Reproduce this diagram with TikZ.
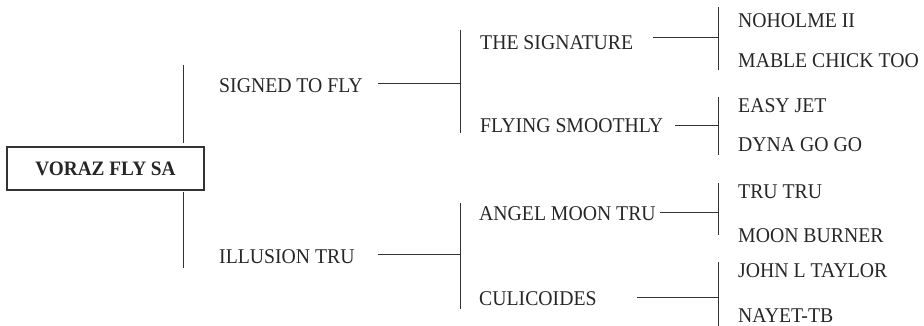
\documentclass[tikz,border=0pt]{standalone}
\usepackage{fontspec}
\setmainfont{Liberation Serif}[FakeStretch=0.94]
\begin{document}
\begin{tikzpicture}[x=1pt,y=-1pt,
  lbl/.style={anchor=base west, inner sep=0pt, font=\fontsize{21}{25}\selectfont, text=black!85},
  rootbox/.style={draw=black!80, line width=1.1pt, minimum width=197pt, minimum height=43pt, inner sep=0pt, font=\fontsize{20.5}{25}\selectfont\bfseries, text=black!85},
  bar/.style={draw=black!80, line width=1pt}]
\useasboundingbox (0,0) rectangle (924,326);
% root
\node[rootbox] (root) at (105.5,168.5) {VORAZ FLY SA};
\coordinate (rt1) at (183,65);
\coordinate (rt2) at (183,143);
\coordinate (rb1) at (183,192);
\coordinate (rb2) at (183,268);
\draw[bar] (rt1) -- (rt2);
\draw[bar] (rb1) -- (rb2);
% generation 1
\node[lbl] (s) at (219,93) {SIGNED TO FLY};
\node[lbl] (i) at (219,263) {ILLUSION TRU};
\coordinate (s0) at (378,84);
\coordinate (s1) at (460,84);
\coordinate (i0) at (378,254);
\coordinate (i1) at (460,254);
\draw[bar] (s0) -- (s1);
\draw[bar] (i0) -- (i1);
\coordinate (sv1) at (460,30);
\coordinate (sv2) at (460,133);
\coordinate (iv1) at (460,203);
\coordinate (iv2) at (460,309);
\draw[bar] (sv1) -- (sv2);
\draw[bar] (iv1) -- (iv2);
% generation 2
\node[lbl] (ts) at (480,50) {THE SIGNATURE};
\node[lbl] (fs) at (480,133) {FLYING SMOOTHLY};
\node[lbl] (am) at (479,220) {ANGEL MOON TRU};
\node[lbl] (cu) at (479,305) {CULICOIDES};
\coordinate (ts0) at (653,38);  \coordinate (ts1) at (718,38);
\coordinate (fs0) at (675,126); \coordinate (fs1) at (718,126);
\coordinate (am0) at (660,212); \coordinate (am1) at (718,212);
\coordinate (cu0) at (637,297); \coordinate (cu1) at (718,297);
\draw[bar] (ts0) -- (ts1);
\draw[bar] (fs0) -- (fs1);
\draw[bar] (am0) -- (am1);
\draw[bar] (cu0) -- (cu1);
\coordinate (tsv1) at (718,7);   \coordinate (tsv2) at (718,70);
\coordinate (fsv1) at (718,97);  \coordinate (fsv2) at (718,155);
\coordinate (amv1) at (718,183); \coordinate (amv2) at (718,235);
\coordinate (cuv1) at (718,262); \coordinate (cuv2) at (718,326);
\draw[bar] (tsv1) -- (tsv2);
\draw[bar] (fsv1) -- (fsv2);
\draw[bar] (amv1) -- (amv2);
\draw[bar] (cuv1) -- (cuv2);
% generation 3
\node[lbl] (n1) at (738,28) {NOHOLME II};
\node[lbl] (n2) at (738,68) {MABLE CHICK TOO};
\node[lbl] (n3) at (738,113) {EASY JET};
\node[lbl] (n4) at (738,152) {DYNA GO GO};
\node[lbl] (n5) at (738,198) {TRU TRU};
\node[lbl] (n6) at (738,242) {MOON BURNER};
\node[lbl] (n7) at (738,277) {JOHN L TAYLOR};
\node[lbl] (n8) at (738,322) {NAYET-TB};
\end{tikzpicture}
\end{document}
